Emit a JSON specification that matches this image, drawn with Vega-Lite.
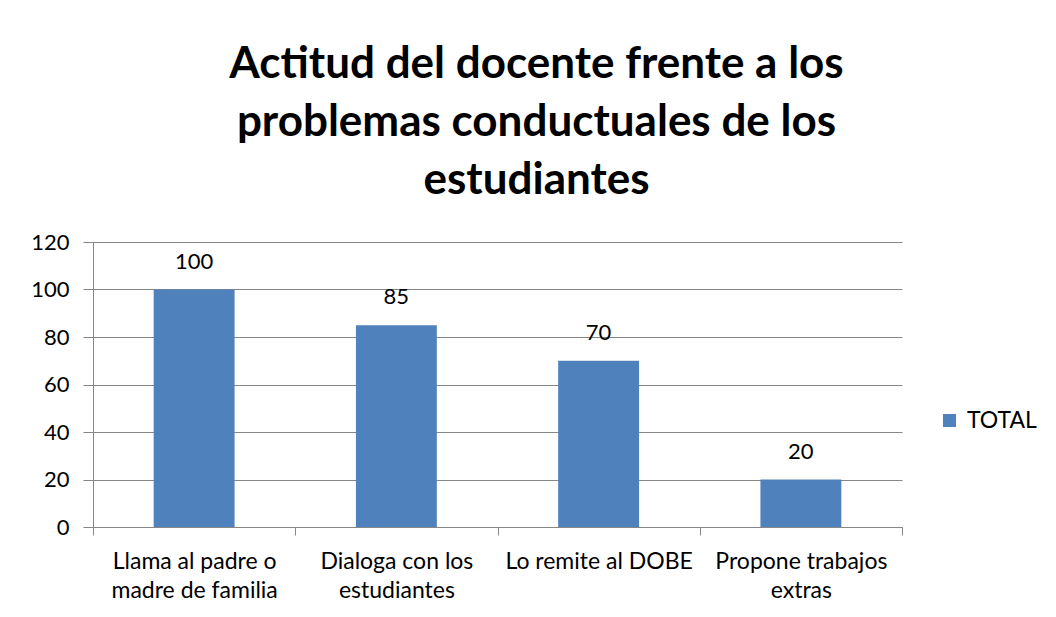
{
  "$schema": "https://vega.github.io/schema/vega-lite/v6.json",
  "autosize": "none",
  "width": 809,
  "height": 285,
  "padding": {"left": 93, "top": 242, "right": 154, "bottom": 90},
  "background": "white",
  "title": {
    "text": ["Actitud del docente frente a los", "problemas conductuales de los", "estudiantes"],
    "font": "Lato",
    "fontSize": 44,
    "fontWeight": "bold",
    "color": "black",
    "lineHeight": 58,
    "anchor": "middle",
    "dx": 39,
    "offset": 28
  },
  "data": {
    "values": [
      {"categoria": "Llama al padre o|madre de familia", "valor": 100, "serie": "TOTAL"},
      {"categoria": "Dialoga con los|estudiantes", "valor": 85, "serie": "TOTAL"},
      {"categoria": "Lo remite al DOBE", "valor": 70, "serie": "TOTAL"},
      {"categoria": "Propone trabajos|extras", "valor": 20, "serie": "TOTAL"}
    ]
  },
  "encoding": {
    "x": {
      "field": "categoria",
      "type": "nominal",
      "sort": null,
      "scale": {"paddingInner": 0, "paddingOuter": 0},
      "axis": {
        "title": null,
        "labelAngle": 0,
        "labelExpr": "split(datum.label, '|')",
        "labelFont": "Lato",
        "labelFontSize": 23,
        "labelColor": "black",
        "labelLineHeight": 29,
        "labelPadding": 15,
        "tickBand": "extent",
        "tickSize": 8,
        "tickColor": "#868686",
        "domainColor": "#868686",
        "labelLimit": 300
      }
    },
    "y": {
      "field": "valor",
      "type": "quantitative",
      "scale": {"domain": [0, 120], "nice": false},
      "axis": {
        "title": null,
        "values": [0, 20, 40, 60, 80, 100, 120],
        "labelFont": "Lato",
        "labelFontSize": 22,
        "labelColor": "black",
        "labelPadding": 14,
        "tickSize": 10,
        "tickColor": "#868686",
        "domainColor": "#868686",
        "gridColor": "#868686",
        "grid": true
      }
    }
  },
  "layer": [
    {
      "mark": {"type": "bar", "width": {"band": 0.4}},
      "encoding": {
        "color": {
          "field": "serie",
          "type": "nominal",
          "scale": {"range": ["#4F81BD"]},
          "legend": {
            "title": null,
            "orient": "none",
            "legendX": 845,
            "legendY": 167,
            "symbolType": "square",
            "symbolSize": 169,
            "labelFont": "Lato",
            "labelFontSize": 23,
            "labelColor": "black",
            "labelOffset": 6
          }
        }
      }
    },
    {
      "mark": {"type": "text", "dy": -28, "font": "Lato", "fontSize": 22, "color": "black"},
      "encoding": {"text": {"field": "valor", "type": "quantitative"}}
    }
  ],
  "config": {"view": {"stroke": null}}
}
